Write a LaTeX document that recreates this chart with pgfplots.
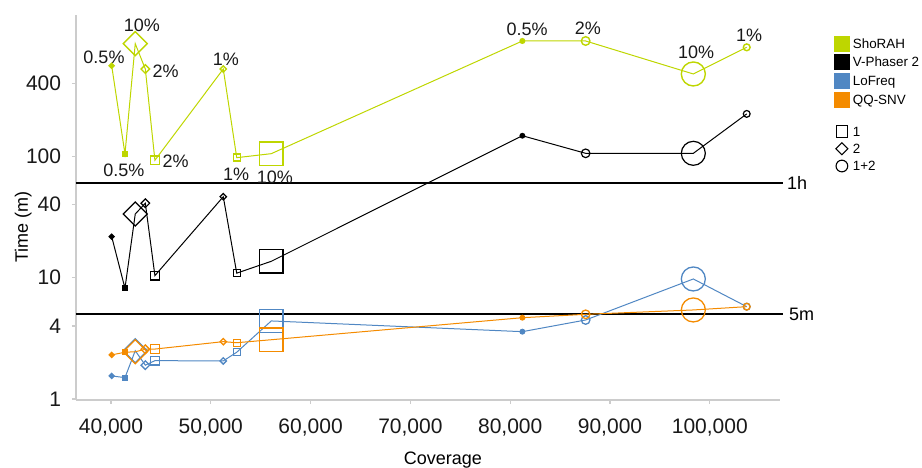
\documentclass[border=0pt]{standalone}
\usepackage{fontspec}
\setmainfont{Liberation Sans}
\usepackage{pgfplots}
\usepackage{pgfplotstable}
\pgfplotsset{compat=1.18}
\definecolor{cgreen}{RGB}{190,214,0}
\definecolor{cblue}{RGB}{80,135,195}
\definecolor{corange}{RGB}{244,139,0}
\definecolor{axgray}{RGB}{204,204,204}

\pgfdeclareplotmark{rdiamond}{%
  \pgfpathmoveto{\pgfqpoint{0pt}{\pgfplotmarksize}}%
  \pgfpathlineto{\pgfqpoint{\pgfplotmarksize}{0pt}}%
  \pgfpathlineto{\pgfqpoint{0pt}{-\pgfplotmarksize}}%
  \pgfpathlineto{\pgfqpoint{-\pgfplotmarksize}{0pt}}%
  \pgfpathclose\pgfusepathqstroke}
\pgfdeclareplotmark{rdiamond*}{%
  \pgfpathmoveto{\pgfqpoint{0pt}{\pgfplotmarksize}}%
  \pgfpathlineto{\pgfqpoint{\pgfplotmarksize}{0pt}}%
  \pgfpathlineto{\pgfqpoint{0pt}{-\pgfplotmarksize}}%
  \pgfpathlineto{\pgfqpoint{-\pgfplotmarksize}{0pt}}%
  \pgfpathclose\pgfusepathqfillstroke}

\pgfplotsset{
  myclasses/.style={scatter, scatter src=explicit symbolic,
    scatter/classes={
      df={mark=rdiamond*,mark size=2.5pt},
      sf={mark=square*,mark size=2.3pt},
      cf={mark=*,mark size=2.3pt},
      d1={mark=rdiamond,mark size=3.2pt},
      s1={mark=square,mark size=3.5pt},
      c1={mark=o,mark size=3.4pt},
      d2={mark=rdiamond,mark size=4.3pt},
      s2={mark=square,mark size=4.4pt},
      c2={mark=o,mark size=4.3pt},
      d10={mark=rdiamond,mark size=12pt},
      s10={mark=square,mark size=11.7pt},
      c10={mark=o,mark size=12pt}}}
}
\tikzset{lab/.style={anchor=base, inner sep=0pt, font=\fontsize{18}{18}\selectfont, text=black!90}}

\pgfplotstableread{
x y c
40070 559 df
41400 104.7 sf
42430 849 d10
43440 525 d2
44400 92.9 s2
51250 525 d1
52600 97.6 s1
56060 105.3 s10
81220 894 cf
87560 894 c2
98350 478 c10
103700 793 c1
}\shorah
\pgfplotstableread{
x y c
40070 21.8 df
41400 8.18 sf
42430 33.5 d10
43440 41.1 d2
44400 10.4 s2
51250 46.5 d1
52600 10.9 s1
56060 13.65 s10
81220 148 cf
87560 106 c2
98350 106 c10
103700 224 c1
}\vphaser
\pgfplotstableread{
x y c
40070 1.55 df
41400 1.50 sf
42430 2.50 d10
43440 1.90 d2
44400 2.07 s2
51250 2.06 d1
52600 2.43 s1
56060 4.40 s10
81220 3.59 cf
87560 4.48 c2
98350 9.76 c10
103700 5.77 c1
}\lofreq
\pgfplotstableread{
x y c
40070 2.31 df
41400 2.43 sf
42430 2.45 d10
43440 2.57 d2
44400 2.58 s2
51250 2.97 d1
52600 2.91 s1
56060 3.08 s10
81220 4.68 cf
87560 4.99 c2
98350 5.42 c10
103700 5.77 c1
}\qqsnv

\begin{document}
\begin{tikzpicture}
\begin{axis}[
  scale only axis, width=704pt, height=385pt,
  at={(0,0)}, anchor=south west,
  ymode=log,
  xmin=36493, xmax=107034,
  ymin=0.981, ymax=1464,
  clip=false,
  axis lines*=left,
  axis line style={axgray, line width=1.5pt},
  tick align=outside,
  major tick length=4pt,
  tick style={axgray, line width=1.2pt},
  xtick={40000,50000,60000,70000,80000,90000,100000},
  xticklabels={{40,000},{50,000},{60,000},{70,000},{80,000},{90,000},{100,000}},
  scaled x ticks=false,
  ytick={1,4,10,40,100,400},
  yticklabels={1,4,10,40,100,400},
  ticklabel style={font=\fontsize{21}{21}\selectfont, text=black!90, inner sep=0pt},
  xticklabel style={anchor=north, yshift=-15pt},
  yticklabel style={anchor=east, xshift=-10.7pt},
  xlabel={Coverage},
  xlabel style={at={(axis description cs:0.5213,-0.1686)}, anchor=base, inner sep=0pt, font=\fontsize{18}{18}\selectfont},
  ylabel={Time (m)},
  ylabel style={at={(axis description cs:-0.0682,0.449)}, anchor=base, inner sep=0pt, font=\fontsize{18}{18}\selectfont},
  legend cell align=left,
  legend style={at={(axis description cs:1.0767,0.9462)}, anchor=north west, draw=none, fill=none,
    inner sep=0pt, outer sep=0pt, row sep=3.3pt,
    font=\fontsize{13.4}{13.4}\selectfont,
    nodes={inner sep=0pt, text depth=0pt, text height=9.6pt}},
]
% threshold lines
\addplot[black, line width=1.8pt, forget plot] coordinates {(36493,60) (107334,60)};
\addplot[black, line width=1.8pt, forget plot] coordinates {(36493,5) (107334,5)};

\addplot[cgreen, line width=1pt, myclasses, mark options={line width=1.4pt}, forget plot] table[x=x,y=y,meta=c]{\shorah};
\addplot[black, line width=1pt, myclasses, mark options={line width=1.2pt}, forget plot] table[x=x,y=y,meta=c]{\vphaser};
\addplot[cblue, line width=1pt, myclasses, mark options={line width=1.3pt}, forget plot] table[x=x,y=y,meta=c]{\lofreq};
\addplot[corange, line width=1pt, myclasses, mark options={line width=1.3pt}, forget plot] table[x=x,y=y,meta=c]{\qqsnv};

\node[anchor=west, inner sep=0pt, font=\fontsize{18}{18}\selectfont, xshift=4pt] at (axis cs:107334,60) {1h};
\node[anchor=west, inner sep=0pt, font=\fontsize{18}{18}\selectfont, xshift=6pt] at (axis cs:107334,5) {5m};

\node[lab, xshift=-7.7pt, yshift=2.6pt] at (axis cs:40070,559) {0.5\%};
\node[lab, xshift=-1pt, yshift=-22.4pt] at (axis cs:41400,104.7) {0.5\%};
\node[lab, xshift=6.7pt, yshift=12.3pt] at (axis cs:42430,849) {10\%};
\node[lab, xshift=20.4pt, yshift=-8.1pt] at (axis cs:43440,525) {2\%};
\node[lab, xshift=20.8pt, yshift=-7.1pt] at (axis cs:44400,92.9) {2\%};
\node[lab, xshift=2.5pt, yshift=3.6pt] at (axis cs:51250,525) {1\%};
\node[lab, xshift=-0.7pt, yshift=-22.7pt] at (axis cs:52600,97.6) {1\%};
\node[lab, xshift=3.5pt, yshift=-29.4pt] at (axis cs:56060,105.3) {10\%};
\node[lab, xshift=4.7pt, yshift=5.3pt] at (axis cs:81220,894) {0.5\%};
\node[lab, xshift=2.3pt, yshift=6.3pt] at (axis cs:87560,894) {2\%};
\node[lab, xshift=2.7pt, yshift=15.3pt] at (axis cs:98350,478) {10\%};
\node[lab, xshift=2.3pt, yshift=5.9pt] at (axis cs:103700,793) {1\%};

% legend
\addlegendimage{legend image code/.code={\fill[cgreen] (0pt,-7.5pt) rectangle (15pt,7.5pt); \path[draw=none,fill=none] (0pt,0pt) rectangle (18.7pt,0pt);}}
\addlegendentry{ShoRAH}
\addlegendimage{legend image code/.code={\fill[black] (0pt,-7.5pt) rectangle (15pt,7.5pt); \path[draw=none,fill=none] (0pt,0pt) rectangle (18.7pt,0pt);}}
\addlegendentry{V-Phaser 2}
\addlegendimage{legend image code/.code={\fill[cblue] (0pt,-7.5pt) rectangle (15pt,7.5pt); \path[draw=none,fill=none] (0pt,0pt) rectangle (18.7pt,0pt);}}
\addlegendentry{LoFreq}
\addlegendimage{legend image code/.code={\fill[corange] (0pt,-7.5pt) rectangle (15pt,7.5pt); \path[draw=none,fill=none] (0pt,0pt) rectangle (18.7pt,0pt);}}
\addlegendentry{QQ-SNV}
\addlegendimage{legend image code/.code={\path[draw=none,fill=none] (0pt,-5.3pt) rectangle (18.7pt,5.3pt);}}
\addlegendentry{}
\addlegendimage{legend image code/.code={\draw[black, line width=1.1pt, fill=none] (1.85pt,-5.85pt) rectangle (13.55pt,5.85pt); \path[draw=none,fill=none] (0pt,-7pt) rectangle (18.7pt,7pt);}}
\addlegendentry{1}
\addlegendimage{legend image code/.code={\draw[black, line width=1.1pt, fill=none] (7.7pt,6pt) -- (13.7pt,0pt) -- (7.7pt,-6pt) -- (1.7pt,0pt) -- cycle; \path[draw=none,fill=none] (0pt,-7pt) rectangle (18.7pt,7pt);}}
\addlegendentry{2}
\addlegendimage{legend image code/.code={\draw[black, line width=1.1pt, fill=none] (7.7pt,0pt) circle (5.85pt); \path[draw=none,fill=none] (0pt,-7pt) rectangle (18.7pt,7pt);}}
\addlegendentry{1+2}
\end{axis}
\pgfresetboundingbox
\path (-76pt,-67pt) rectangle (846pt,400pt);
\end{tikzpicture}
\end{document}
